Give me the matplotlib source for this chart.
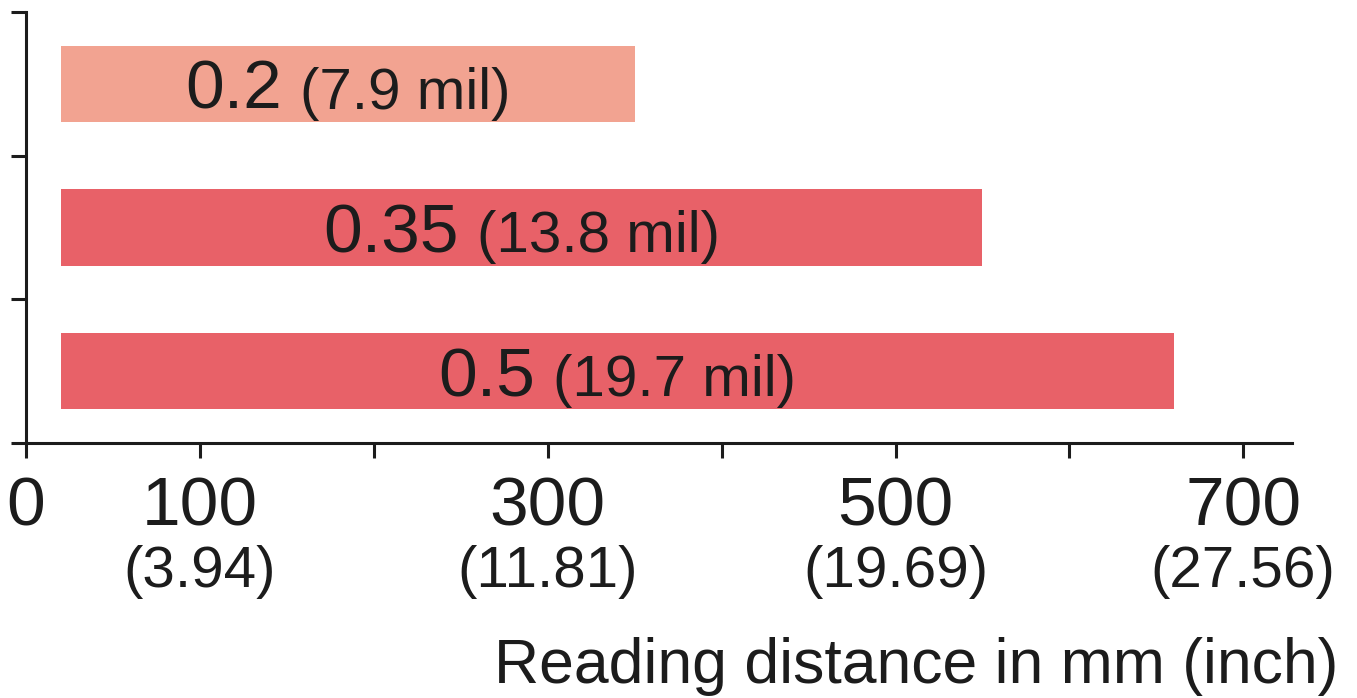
import matplotlib
matplotlib.use("Agg")
import matplotlib.pyplot as plt

plt.rcParams['font.family'] = ['Liberation Sans', 'DejaVu Sans']

# data
sizes_mm = ['0.2', '0.35', '0.5']
sizes_mil = ['(7.9 mil)', '(13.8 mil)', '(19.7 mil)']
bar_start = 20
distance_mm = [350, 550, 660]
bar_colors = ['#F2A391', '#E86168', '#E86168']
tick_mm = [100, 300, 500, 700]
tick_inch = ['(3.94)', '(11.81)', '(19.69)', '(27.56)']

W, H = 1357, 698
ink = '#1c1c1c'

fig = plt.figure(figsize=(W / 100, H / 100), dpi=100)
ax = fig.add_axes([26 / W, (H - 443) / H, (1292 - 26) / W, (443 - 12) / H])

ypos = [2, 1, 0]
ax.barh(ypos, [d - bar_start for d in distance_mm], left=bar_start,
        height=0.53, color=bar_colors)

ax.set_xlim(0, 728)
ax.set_ylim(-0.5, 2.5)

ax.set_xticks(range(0, 701, 100))
ax.set_xticklabels([])
ax.set_yticks([-0.5, 0.5, 1.5, 2.5])
ax.set_yticklabels([])
ax.tick_params(axis='both', direction='out', length=11, width=2.2, color=ink)

for s in ['top', 'right']:
    ax.spines[s].set_visible(False)
for s in ['left', 'bottom']:
    ax.spines[s].set_linewidth(2.2)
    ax.spines[s].set_color(ink)

# x tick labels: mm on top, inch below
ax.annotate('0', (0, 0), xycoords=('data', 'axes fraction'), xytext=(0, -83),
            textcoords='offset pixels', ha='center', va='baseline',
            fontsize=50, color=ink, annotation_clip=False)
for mm, inch in zip(tick_mm, tick_inch):
    ax.annotate(str(mm), (mm, 0), xycoords=('data', 'axes fraction'),
                xytext=(0, -83), textcoords='offset pixels', ha='center',
                va='baseline', fontsize=50, color=ink, annotation_clip=False)
    ax.annotate(inch, (mm, 0), xycoords=('data', 'axes fraction'),
                xytext=(0, -144), textcoords='offset pixels', ha='center',
                va='baseline', fontsize=42, color=ink, annotation_clip=False)

fig.text(1338 / W, (H - 683) / H, 'Reading distance in mm (inch)',
         ha='right', va='baseline', fontsize=45, color=ink)

# labels inside bars, big mm + smaller mil, centred as a group
fig.canvas.draw()
renderer = fig.canvas.get_renderer()
gap = 18
for y, big, small, d in zip(ypos, sizes_mm, sizes_mil, distance_mm):
    center = (bar_start + d) / 2
    t1 = ax.annotate(big, (center, y), xytext=(0, -25), textcoords='offset pixels',
                     ha='left', va='baseline', fontsize=50, color=ink)
    t2 = ax.annotate(small, (center, y), xytext=(0, -25), textcoords='offset pixels',
                     ha='left', va='baseline', fontsize=42, color=ink)
    w1 = t1.get_window_extent(renderer).width
    w2 = t2.get_window_extent(renderer).width
    total = w1 + gap + w2
    t1.set_position((-total / 2, -25))
    t2.set_position((-total / 2 + w1 + gap, -25))

fig.savefig('out.png', dpi=100)
